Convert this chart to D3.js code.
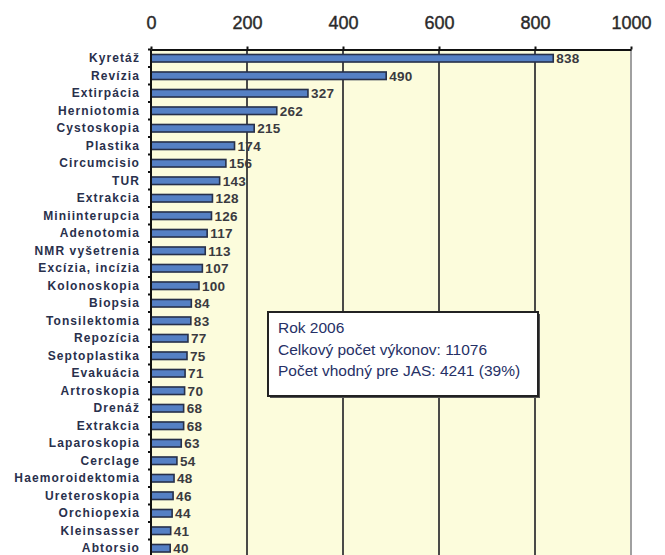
<!DOCTYPE html>
<html>
<head>
<meta charset="utf-8">
<script src="https://cdn.jsdelivr.net/npm/d3@7"></script>
<style>
    body { margin: 0; background: #fff; }
    svg { display: block; }
</style>
</head>
<body>
<svg id="chart"></svg>
<script>
// hodnoty odčítané z grafu (rok 2006)
const categories = ["Kyretáž", "Revízia", "Extirpácia", "Herniotomia", "Cystoskopia", "Plastika",
    "Circumcisio", "TUR", "Extrakcia", "Miniinterupcia", "Adenotomia", "NMR vyšetrenia",
    "Excízia, incízia", "Kolonoskopia", "Biopsia", "Tonsilektomia", "Repozícia", "Septoplastika",
    "Evakuácia", "Artroskopia", "Drenáž", "Extrakcia ", "Laparoskopia", "Cerclage",
    "Haemoroidektomia", "Ureteroskopia", "Orchiopexia", "Kleinsasser", "Abtorsio"];
const values = [838, 490, 327, 262, 215, 174, 156, 143, 128, 126, 117, 113, 107, 100, 84, 83,
    77, 75, 71, 70, 68, 68, 63, 54, 48, 46, 44, 41, 40];
const tickValues = [0, 200, 400, 600, 800, 1000];
const noteLines = ["Rok 2006", "Celkový počet výkonov: 11076", "Počet vhodný pre JAS: 4241 (39%)"];

class BarChart {
    margin = {
        top: 49.5, right: 34, bottom: 0, left: 151
    }

    constructor(svg, width = 480, rowHeight = 17.5) {
        this.svg = svg;
        this.width = width;
        this.rowHeight = rowHeight;
    }

    initialize() {
        this.svg = d3.select(this.svg)
            .attr("width", 665)
            .attr("height", 555);

        this.height = 555 - this.margin.top;

        this.background = this.svg.append("rect");
        this.grid = this.svg.append("g");
        this.container = this.svg.append("g");
        this.labels = this.svg.append("g");
        this.xAxis = this.svg.append("g");
        this.yAxis = this.svg.append("g");
        this.note = this.svg.append("g");

        this.xScale = d3.scaleLinear();
        this.yScale = d3.scaleBand();

        this.container.attr("transform", `translate(${this.margin.left}, ${this.margin.top})`);
        this.labels.attr("transform", `translate(${this.margin.left}, ${this.margin.top})`);
        this.grid.attr("transform", `translate(${this.margin.left}, ${this.margin.top})`);
    }

    update() {
        this.xScale.domain([0, 1000]).range([0, this.width]);
        this.yScale.domain(categories)
            .range([0, categories.length * this.rowHeight])
            .paddingInner(0.57)
            .paddingOuter(0.285);

        this.background
            .attr("x", this.margin.left)
            .attr("y", this.margin.top)
            .attr("width", this.width)
            .attr("height", this.height)
            .attr("fill", "#fcfcdc");

        // zvislé čiary mriežky
        this.grid.selectAll("line")
            .data(tickValues.slice(1))
            .join("line")
            .attr("x1", d => this.xScale(d))
            .attr("x2", d => this.xScale(d))
            .attr("y1", 0)
            .attr("y2", this.height)
            .attr("stroke", d => d === 1000 ? "#a0a0a0" : "#4a4a48")
            .attr("stroke-width", 2);

        this.container.selectAll("rect")
            .data(categories)
            .join("rect")
            .attr("x", 0)
            .attr("y", d => this.yScale(d))
            .attr("width", (d, i) => this.xScale(values[i]))
            .attr("height", this.yScale.bandwidth())
            .attr("fill", "#5580c4")
            .attr("stroke", "#27304a")
            .attr("stroke-width", 1.6);

        this.labels.selectAll("text")
            .data(categories)
            .join("text")
            .attr("x", (d, i) => this.xScale(values[i]) + 3)
            .attr("y", d => this.yScale(d) + this.yScale.bandwidth() / 2)
            .attr("dy", "0.36em")
            .attr("font-family", "Liberation Sans, Arial, sans-serif")
            .attr("font-weight", "bold")
            .attr("font-size", "13.5px")
            .attr("letter-spacing", "0.3px")
            .attr("fill", "#3a3a40")
            .text((d, i) => values[i]);

        this.xAxis
            .attr("transform", `translate(${this.margin.left}, ${this.margin.top})`)
            .call(d3.axisTop(this.xScale).tickValues(tickValues).tickFormat(d3.format("d"))
                .tickSize(3).tickPadding(18).tickSizeOuter(0))
            .call(g => g.select(".domain").attr("stroke", "#111").attr("stroke-width", 2))
            .call(g => g.selectAll(".tick line").attr("stroke", "#111").attr("stroke-width", 2))
            .call(g => g.selectAll(".tick text")
                .attr("font-family", "Liberation Sans, Arial, sans-serif")
                .attr("font-size", "18px")
                .attr("stroke", "#2a2a2a")
                .attr("stroke-width", 0.4)
                .attr("fill", "#2a2a2a"));

        this.yAxis
            .attr("transform", `translate(${this.margin.left}, ${this.margin.top})`)
            .call(d3.axisLeft(this.yScale).tickSize(0).tickPadding(11))
            .call(g => g.select(".domain").attr("d", `M0,0V${this.height}`)
                .attr("stroke", "#111").attr("stroke-width", 2))
            .call(g => g.selectAll(".tick text")
                .attr("font-family", "Liberation Sans, Arial, sans-serif")
                .attr("font-weight", "bold")
                .attr("font-size", "12px")
                .attr("letter-spacing", "1.1px")
                .attr("fill", "#29304c"));

        // malé značky medzi riadkami
        const step = this.yScale.step();
        this.yAxis.selectAll(".row-tick")
            .data(categories)
            .join("line")
            .attr("class", "row-tick")
            .attr("x1", -3)
            .attr("x2", 0)
            .attr("y1", d => this.yScale(d) - step * 0.285)
            .attr("y2", d => this.yScale(d) - step * 0.285)
            .attr("stroke", "#111")
            .attr("stroke-width", 2);

        // textové pole s poznámkou
        this.note.attr("transform", "translate(268, 312)");
        this.note.append("rect")
            .attr("x", 2).attr("y", 2)
            .attr("width", 270).attr("height", 84)
            .attr("fill", "#555");
        this.note.append("rect")
            .attr("width", 270).attr("height", 84)
            .attr("fill", "#fff")
            .attr("stroke", "#222")
            .attr("stroke-width", 2);
        this.note.selectAll("text")
            .data(noteLines)
            .join("text")
            .attr("x", 10)
            .attr("y", (d, i) => 21 + i * 21.5)
            .attr("font-family", "Liberation Sans, Arial, sans-serif")
            .attr("font-size", "15.5px")
            .attr("fill", "#263066")
            .text(d => d);
    }
}

const chart = new BarChart(document.getElementById("chart"));
chart.initialize();
chart.update();
</script>
</body>
</html>
